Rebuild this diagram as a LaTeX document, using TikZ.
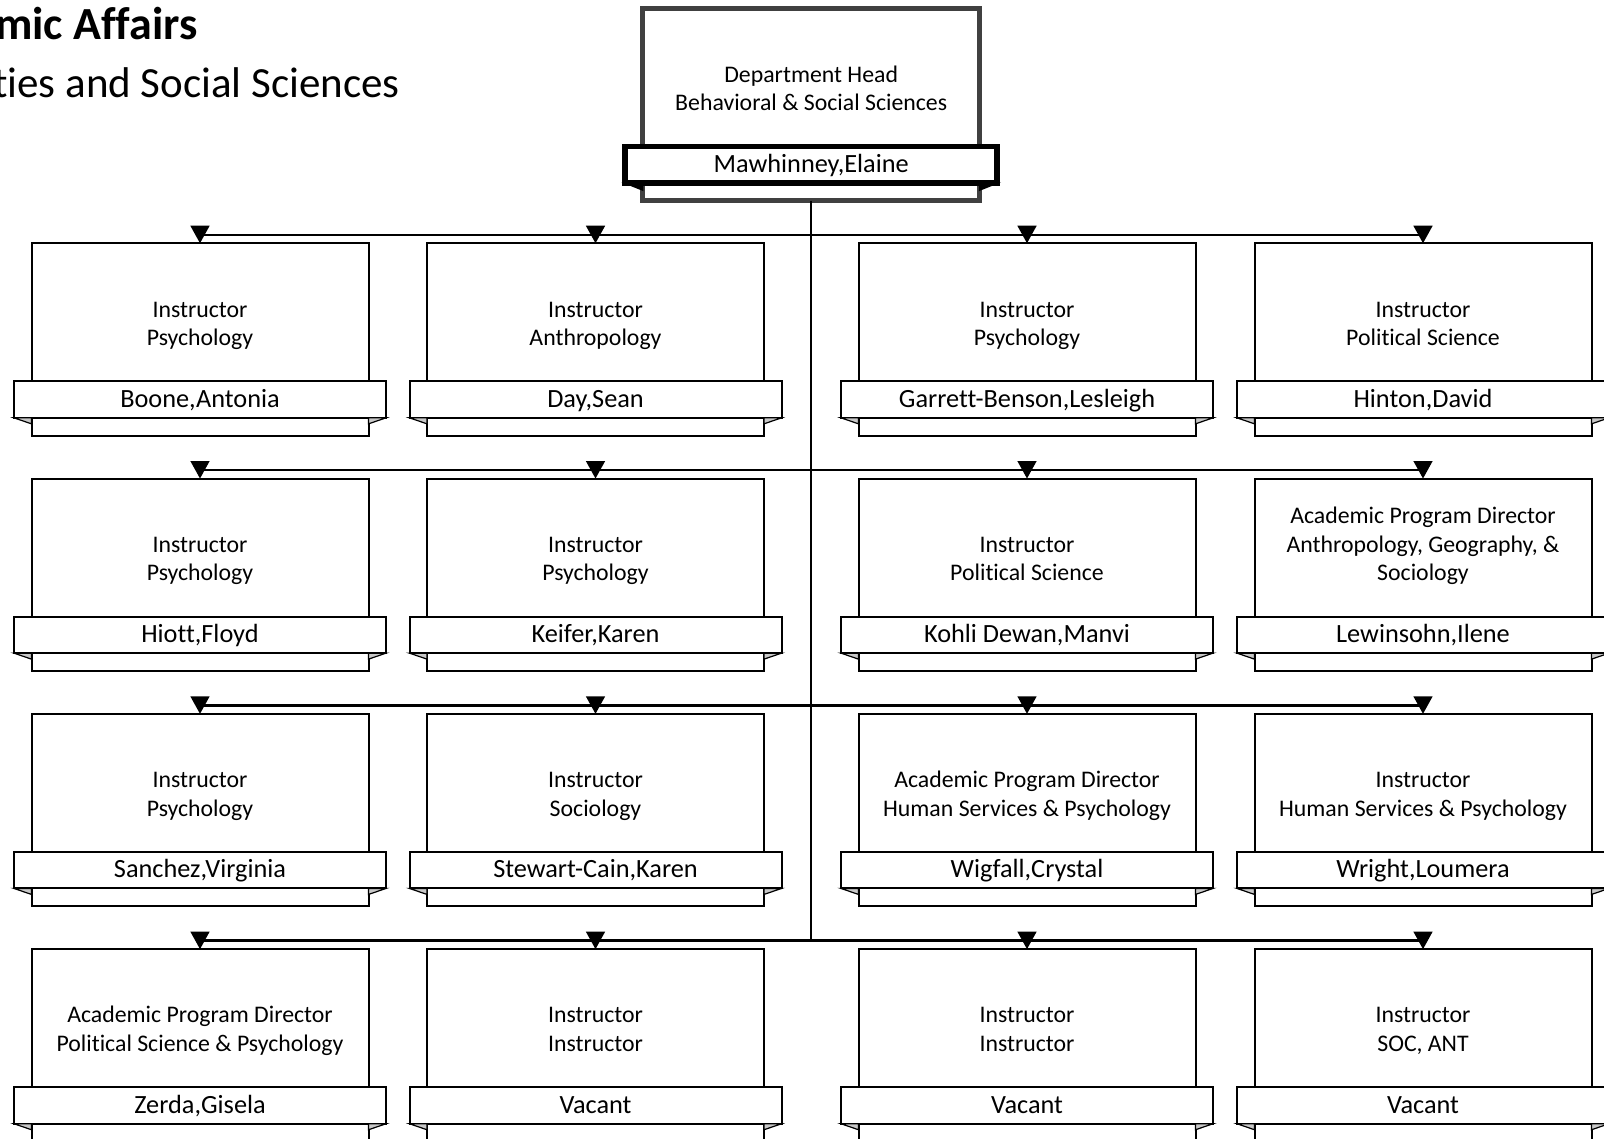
\documentclass[tikz,border=0pt]{standalone}
\usepackage{fontspec}
\setmainfont{Carlito}[Ligatures=NoCommon]
\usetikzlibrary{arrows.meta}
\definecolor{foldgrey}{HTML}{C8C8C8}
\definecolor{headgrey}{HTML}{404040}
\newcommand\rolefont{\fontsize{23.8}{28.4}\selectfont}
\newcommand\namefont{\fontsize{26.3}{31}\selectfont}
\newcommand\titlefont{\fontsize{43}{50}\selectfont}
\newcommand\boldtitlefont{\fontsize{46}{54}\selectfont\bfseries}
\tikzset{
  card/.style={draw, line width=2pt, fill=white, minimum width=337pt, minimum height=192.5pt, inner sep=0pt, outer sep=0pt, anchor=north},
  band/.style={draw, line width=2pt, fill=white, minimum width=372pt, minimum height=36.5pt, inner sep=0pt, outer sep=0pt, font=\namefont, text height=15.2pt, text depth=0pt},
  role/.style={anchor=south, align=center, inner sep=0pt, font=\rolefont},
  fold/.style={draw, line width=1.2pt, fill=foldgrey, line join=miter},
  headcard/.style={card, draw=headgrey, line width=5pt},
  headband/.style={band, line width=5.5pt},
  headfold/.style={draw, line width=1.5pt, fill=black, line join=miter},
  link/.style={line width=2.5pt},
  arr/.style={line width=2.5pt, -{Triangle[width=18.7pt,length=17.6pt]}},
  titletext/.style={inner sep=0pt, font=\titlefont},
}
\newcommand\orgcard[5]{%
  \node[card] (#1) at (#2,#3) {};
  \node[band] (#1n) at (#2,#3+156.3) {#5};
  \node[role] (#1r) at (#2,#3+110.9) {#4\strut};
  \draw[fold] (#1n.south west) -- (#1.west |- #1n.south) -- ++(0,6) -- cycle;
  \draw[fold] (#1n.south east) -- (#1.east |- #1n.south) -- ++(0,6) -- cycle;
}
\begin{document}
\begin{tikzpicture}[x=1pt,y=-1pt]
\useasboundingbox (0,0) rectangle (1604,1139);
\fill[white] (0,0) rectangle (1604,1139);

% title
\node[titletext, font=\boldtitlefont, anchor=base east] (t1) at (198,39.5) {mic Affairs};
\node[titletext, anchor=base east] (t2) at (400,97.5) {ties and Social Sciences};

% head
\node[headcard] (head) at (811.2,8.5) {};
\node[headband] (headn) at (811.2,164.8) {Mawhinney,Elaine};
\node[role] (headr) at (811.2,119.4) {Department Head\\Behavioral \& Social Sciences\strut};
\draw[headfold] (headn.south west) -- (head.west |- headn.south) -- ++(0,7) -- cycle;
\draw[headfold] (headn.south east) -- (head.east |- headn.south) -- ++(0,7) -- cycle;

% row lines
\coordinate (L1) at (0,234.8);
\coordinate (L2) at (0,470.1);
\coordinate (L3) at (0,705.4);
\coordinate (L4) at (0,940.7);
\coordinate (trunkEnd) at (811.2,940.7);
\draw[link] (head.south) -- (trunkEnd);

% cards
\orgcard{a1}{200}{243.3}{Instructor\\Psychology}{Boone,Antonia}
\orgcard{a2}{595.5}{243.3}{Instructor\\Anthropology}{Day,Sean}
\orgcard{a3}{1027}{243.3}{Instructor\\Psychology}{Garrett-Benson,Lesleigh}
\orgcard{a4}{1423}{243.3}{Instructor\\Political Science}{Hinton,David}

\orgcard{b1}{200}{478.6}{Instructor\\Psychology}{Hiott,Floyd}
\orgcard{b2}{595.5}{478.6}{Instructor\\Psychology}{Keifer,Karen}
\orgcard{b3}{1027}{478.6}{Instructor\\Political Science}{Kohli Dewan,Manvi}
\orgcard{b4}{1423}{478.6}{Academic Program Director\\Anthropology, Geography, \&\\Sociology}{Lewinsohn,Ilene}

\orgcard{c1}{200}{713.9}{Instructor\\Psychology}{Sanchez,Virginia}
\orgcard{c2}{595.5}{713.9}{Instructor\\Sociology}{Stewart-Cain,Karen}
\orgcard{c3}{1027}{713.9}{Academic Program Director\\Human Services \& Psychology}{Wigfall,Crystal}
\orgcard{c4}{1423}{713.9}{Instructor\\Human Services \& Psychology}{Wright,Loumera}

\orgcard{d1}{200}{949.2}{Academic Program Director\\Political Science \& Psychology}{Zerda,Gisela}
\orgcard{d2}{595.5}{949.2}{Instructor\\Instructor}{Vacant}
\orgcard{d3}{1027}{949.2}{Instructor\\Instructor}{Vacant}
\orgcard{d4}{1423}{949.2}{Instructor\\SOC, ANT}{Vacant}

% connectors
\foreach \r/\L in {a/L1,b/L2,c/L3,d/L4}{
  \draw[link] (\r1.north |- \L) -- (\r4.north |- \L);
  \foreach \c in {1,2,3,4}{
    \draw[arr] (\r\c.north |- \L) -- (\r\c.north);
  }
}
\end{tikzpicture}
\end{document}
